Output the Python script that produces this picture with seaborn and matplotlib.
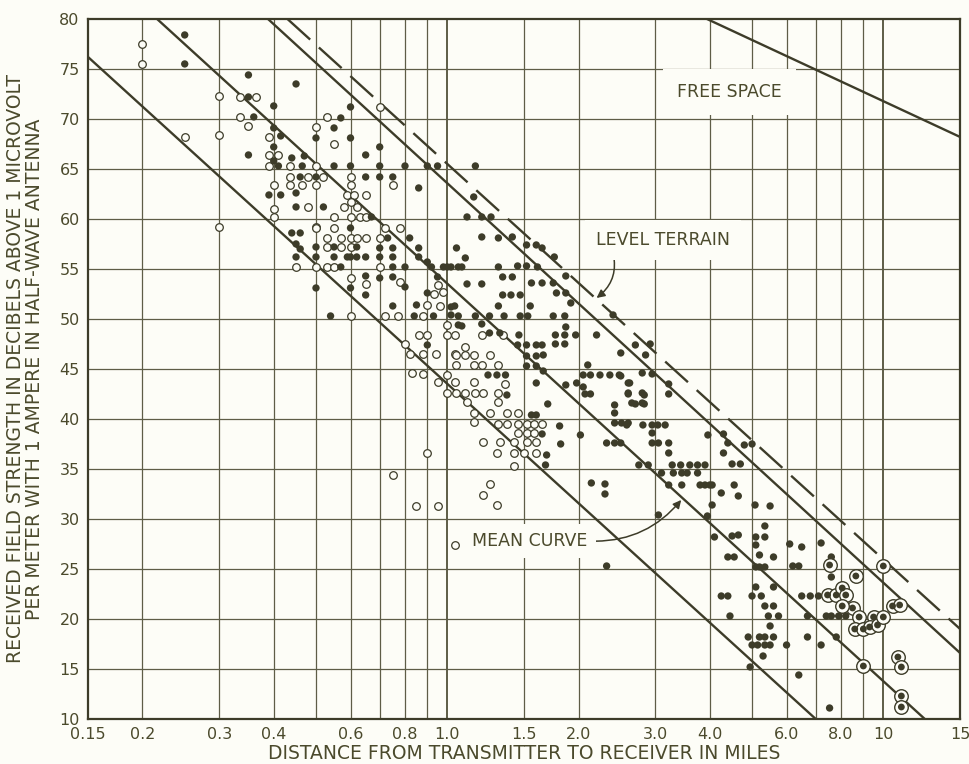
import numpy as np
import pandas as pd
import seaborn as sns
import matplotlib.pyplot as plt
from matplotlib.ticker import FixedLocator, NullFormatter, NullLocator

# --- measured points (distance in miles, field strength in dB) ---
filled_d = [0.25, 0.25, 0.35, 0.45, 0.35, 0.4, 0.36, 0.4, 0.415, 0.5, 0.4, 0.35, 0.44, 0.47,
            0.41, 0.40, 0.465, 0.55, 0.6, 0.7, 0.8, 0.9, 0.95, 1.16,
            0.6, 0.57, 0.55, 0.6, 0.7, 0.65,
            0.46, 0.5, 0.65, 0.7, 0.75, 0.86, 0.45, 0.39, 0.415, 0.45, 0.52, 0.67, 0.6, 0.73, 0.82,
            0.44, 0.46, 0.45, 0.46, 0.45,
            0.5, 0.55, 0.62, 0.7, 0.75, 0.86, 1.05,
            0.5, 0.55, 0.59, 0.6, 0.62, 0.65, 0.7, 0.75, 0.86, 0.9,
            0.57, 0.75, 0.8, 0.92, 0.98, 1.02, 1.06,
            0.5, 0.65, 0.7, 0.75, 0.8, 0.95, 0.6, 0.65, 0.9, 0.75, 0.85, 1.04,
            0.54, 0.84, 0.93, 1.06, 1.06, 0.9,
            1.15, 1.11, 1.2, 1.26, 1.2, 1.31, 1.41, 1.52, 1.6, 1.65, 1.76, 1.1, 1.0, 1.08, 1.31,
            1.45, 1.52, 1.61, 1.87, 1.34, 1.41, 1.11, 1.2, 1.56, 1.65, 1.75, 1.34, 1.4, 1.47,
            1.78, 1.87, 1.02, 1.31, 1.55, 1.92,
            1.16, 1.25, 1.35, 1.47, 1.53, 1.75, 1.86, 2.4, 1.02,
            1.08, 1.2, 1.25, 1.32, 1.46, 1.87, 1.77, 1.86, 1.97, 2.2, 1.86, 1.77, 1.52, 1.6, 1.65,
            1.45, 1.52, 1.6, 1.66, 1.52, 1.6, 1.66, 2.1,
            1.24, 1.3, 1.36, 2.05, 2.13, 2.24, 2.36, 2.48,
            1.6, 1.87, 1.98, 2.05, 2.6, 1.37, 2.07, 2.13, 2.6, 2.8, 1.7, 2.65, 2.8,
            1.6, 1.56, 1.81, 1.65, 1.82, 1.69, 1.68,
            2.42, 2.42, 2.42, 2.51, 2.6, 2.32, 2.42, 2.5, 2.02,
            2.14, 2.3, 2.3, 2.32,
            2.7, 2.92, 2.85, 2.5, 2.8, 2.95, 3.22, 3.22, 2.5, 2.62, 2.6, 2.83, 2.7, 2.83,
            2.58, 2.81, 2.95, 3.04, 3.16,
            2.95, 2.95, 3.05, 3.22, 3.22, 3.96, 4.3, 4.4, 4.3, 4.8, 5.0, 4.5, 4.7,
            2.75, 2.89, 3.28, 3.43, 3.6, 3.75, 3.9,
            3.1, 3.3, 3.45, 3.55, 3.75,
            3.22, 3.45, 3.8, 3.9, 4.0, 4.05, 4.55,
            4.25, 4.65,
            3.05, 4.05, 3.95, 5.08, 5.5, 5.35, 4.1, 4.5, 4.65, 5.1, 5.35, 5.1, 6.1, 6.5, 7.2,
            4.4, 4.55, 5.2, 5.6, 6.2, 6.4, 5.1, 5.2, 5.35, 7.6, 7.6,
            4.25, 4.4, 5.0, 5.25, 5.1, 5.6, 6.5, 6.8, 7.1, 5.35, 5.6,
            4.45, 5.45, 5.75, 6.7, 7.4, 7.6, 7.9, 8.2, 7.53, 6.4,
            4.9, 5.2, 5.35, 5.6, 5.0, 5.15, 5.35, 5.5, 6.0, 5.3, 4.95, 6.7, 7.2, 7.8, 5.5]
filled_db = [78.4, 75.5, 74.4, 73.5, 72.2, 71.3, 70.2, 69.1, 68.3, 68.1, 67.2, 66.4, 66.1, 66.3,
             65.3, 65.8, 65.3, 65.3, 65.3, 65.3, 65.3, 65.3, 65.3, 65.3,
             71.2, 70.1, 69.1, 68.1, 67.2, 66.4,
             64.2, 64.2, 64.2, 64.2, 64.2, 63.1, 62.6, 62.4, 62.4, 61.2, 61.2, 60.2, 59.1, 58.1, 58.1,
             58.6, 58.6, 57.5, 57.0, 56.2,
             57.2, 57.2, 57.2, 57.1, 57.1, 57.1, 57.1,
             56.2, 56.2, 56.2, 56.2, 56.2, 56.2, 56.2, 56.2, 56.2, 55.7,
             55.2, 55.2, 55.2, 55.2, 55.2, 55.2, 55.2,
             53.1, 54.3, 54.1, 54.2, 53.2, 54.2, 53.1, 52.4, 52.6, 51.3, 51.4, 51.3,
             50.3, 50.3, 50.3, 50.3, 49.4, 47.4,
             62.2, 60.2, 60.2, 60.2, 58.2, 58.1, 58.2, 57.4, 57.4, 57.1, 56.2, 56.1, 55.2, 55.2, 55.2,
             55.3, 55.3, 55.2, 54.3, 54.2, 54.2, 53.5, 53.5, 53.6, 53.6, 53.6, 52.4, 52.4, 52.4,
             52.6, 52.6, 51.2, 51.3, 51.3, 51.6,
             50.3, 50.3, 50.3, 50.3, 50.3, 50.3, 50.3, 50.4, 50.4,
             49.3, 49.5, 48.6, 48.6, 48.4, 49.2, 48.4, 48.4, 48.4, 48.4, 47.5, 47.5, 47.4, 47.4, 47.4,
             47.4, 46.3, 46.3, 46.4, 45.3, 45.3, 44.8, 45.4,
             44.4, 44.4, 44.4, 44.4, 44.4, 44.4, 44.4, 44.4,
             43.6, 43.4, 43.6, 43.2, 43.6, 42.4, 42.5, 42.5, 42.6, 42.6, 41.5, 41.6, 41.6,
             40.4, 40.4, 39.3, 38.5, 37.5, 36.4, 35.4,
             41.4, 40.6, 39.6, 39.6, 39.6, 37.6, 37.6, 37.6, 38.4,
             33.6, 33.5, 32.5, 25.3,
             47.4, 47.5, 46.4, 46.6, 44.6, 44.5, 43.5, 42.5, 44.3, 43.6, 42.5, 42.4, 41.5, 41.5,
             39.4, 39.4, 39.4, 39.4, 39.4,
             38.6, 37.6, 37.6, 37.6, 36.6, 38.4, 38.5, 37.6, 36.6, 37.4, 37.5, 35.5, 35.5,
             35.4, 35.4, 35.4, 35.4, 35.4, 35.4, 35.4,
             34.6, 34.6, 34.6, 34.6, 34.6,
             33.4, 33.4, 33.4, 33.4, 33.4, 33.4, 33.4,
             32.6, 32.3,
             30.4, 31.4, 30.3, 31.4, 31.3, 29.3, 28.2, 28.3, 28.4, 28.2, 28.2, 27.4, 27.5, 27.2, 27.6,
             26.2, 26.2, 26.4, 26.2, 25.3, 25.3, 25.2, 25.2, 25.2, 26.2, 24.2,
             22.3, 22.3, 22.3, 22.3, 23.2, 23.2, 22.3, 22.3, 22.3, 21.3, 21.3,
             20.3, 20.3, 20.3, 20.3, 20.3, 20.3, 20.3, 20.3, 11.1, 14.4,
             18.2, 18.2, 18.2, 18.2, 17.4, 17.4, 17.4, 17.4, 17.4, 16.3, 15.2, 18.2, 17.4, 18.2, 19.3]

open_d = [0.2, 0.2, 0.3, 0.335, 0.365, 0.335, 0.35, 0.5, 0.25, 0.3, 0.39, 0.39, 0.41,
          0.39, 0.435, 0.5,
          0.435, 0.48, 0.52, 0.6,
          0.4, 0.435, 0.465, 0.5, 0.6, 0.75,
          0.53, 0.7, 0.55,
          0.48, 0.4, 0.4, 0.3, 0.5,
          0.59, 0.61, 0.65, 0.58, 0.6, 0.62,
          0.55, 0.6, 0.63, 0.65,
          0.5, 0.55, 0.72, 0.78,
          0.53, 0.57, 0.6, 0.62, 0.65, 0.7,
          0.53, 0.57, 0.6,
          0.45, 0.5, 0.53, 0.55, 0.7,
          0.6, 0.78, 0.65, 0.95, 0.98, 0.93, 0.9, 0.96,
          0.6, 0.72, 0.77, 0.88,
          0.86, 0.9, 1.0, 1.04, 1.0, 0.8,
          0.82, 0.88, 0.94, 1.04,
          0.83, 0.88, 0.95, 1.0, 1.04, 1.0,
          0.75, 0.9, 1.21, 1.25, 0.85, 0.95, 1.3, 1.04,
          1.2, 1.34, 1.1,
          1.05, 1.1, 1.15, 1.25,
          1.05, 1.15, 1.2, 1.31,
          1.15, 1.36,
          1.05, 1.1, 1.16, 1.21, 1.31,
          1.31, 1.11,
          1.15, 1.25, 1.37, 1.45,
          1.15,
          1.31, 1.37, 1.45, 1.52, 1.58, 1.65,
          1.45, 1.52, 1.58,
          1.21, 1.32, 1.42, 1.52, 1.6,
          1.3, 1.42, 1.5, 1.6,
          1.42]
open_db = [77.5, 75.5, 72.3, 72.2, 72.2, 70.2, 69.3, 69.2, 68.2, 68.4, 68.2, 66.4, 66.4,
           65.3, 65.3, 65.3,
           64.2, 64.2, 64.2, 64.2,
           63.4, 63.4, 63.4, 63.4, 63.4, 63.4,
           70.2, 71.2, 67.5,
           61.2, 61.0, 60.2, 59.2, 59.2,
           62.4, 62.4, 62.4, 61.2, 61.7, 61.2,
           60.2, 60.2, 60.2, 60.2,
           59.1, 59.1, 59.1, 59.1,
           58.1, 58.1, 58.1, 58.1, 58.1, 58.1,
           57.2, 57.2, 57.2,
           55.2, 55.2, 55.2, 55.2, 55.2,
           54.1, 53.7, 53.5, 53.4, 52.7, 52.5, 51.4, 51.3,
           50.3, 50.3, 50.3, 50.3,
           48.4, 48.4, 48.4, 48.4, 49.4, 47.5,
           46.5, 46.5, 46.5, 46.5,
           44.6, 44.5, 43.7, 44.4, 43.7, 42.6,
           34.4, 36.6, 32.4, 33.5, 31.3, 31.3, 31.4, 27.4,
           48.4, 48.4, 47.2,
           46.4, 46.4, 46.4, 46.4,
           45.4, 45.4, 45.4, 45.4,
           43.7, 43.5,
           42.6, 42.6, 42.6, 42.6, 42.6,
           41.7, 41.7,
           40.6, 40.6, 40.6, 40.6,
           39.7,
           39.5, 39.5, 39.5, 39.5, 39.5, 39.5,
           38.6, 38.6, 38.6,
           37.7, 37.7, 37.7, 37.7, 37.7,
           36.6, 36.6, 36.6, 36.6,
           35.3]

ringed_d = [7.53, 8.65, 7.45, 7.8, 8.05, 8.2, 8.5, 8.8, 9.5, 8.6, 9.0, 9.3, 9.7,
            10.0, 8.05, 10.0, 10.5, 10.9, 9.0, 10.8, 11.0, 11.0, 11.0]
ringed_db = [25.4, 24.3, 22.4, 22.4, 23.1, 22.4, 21.1, 20.2, 20.2, 19.0, 19.0, 19.2, 19.4,
             25.3, 21.3, 20.2, 21.3, 21.4, 15.3, 16.2, 15.2, 12.3, 11.2]

# straight reference lines (end points)
lower_d, lower_db = [0.15, 7.0], [76.2, 10.0]
mean_d, mean_db = [0.216, 12.45], [80.0, 10.0]
upper_d, upper_db = [0.388, 15.0], [80.0, 16.6]
level_d, level_db = [0.43, 15.0], [80.0, 19.0]
free_d, free_db = [3.94, 15.0], [80.0, 68.2]

x_ticks = [0.15, 0.2, 0.3, 0.4, 0.6, 0.8, 1.0, 1.5, 2.0, 3.0, 4.0, 6.0, 8.0, 10, 15]
x_labels = ["0.15", "0.2", "0.3", "0.4", "0.6", "0.8", "1.0", "1.5", "2.0", "3.0", "4.0",
            "6.0", "8.0", "10", "15"]
x_grid = [0.2, 0.3, 0.4, 0.5, 0.6, 0.7, 0.8, 0.9, 1.5, 2.0, 3, 4, 5, 6, 7, 8, 9]
x_grid_heavy = [1.0, 10.0]
y_ticks = list(range(10, 85, 5))

bg = "#fdfdf7"
ink = "#3d3c29"
txt = "#4b4a2c"
grid_c = "#5e5d47"

sns.set_style("white")
plt.rcParams['font.family'] = ['DejaVu Sans']

fig = plt.figure(figsize=(9.69, 7.64), dpi=100, facecolor=bg)
ax = fig.add_axes([0.0908, 0.0589, 0.9, 0.9163])
ax.set_facecolor(bg)
ax.set_xscale("log")
ax.set_xlim(0.15, 15)
ax.set_ylim(10, 80)

for x in x_grid:
    ax.axvline(x, color=grid_c, lw=0.9, zorder=1)
for x in x_grid_heavy:
    ax.axvline(x, color=grid_c, lw=1.4, zorder=1)
for y in y_ticks[1:-1]:
    ax.axhline(y, color=grid_c, lw=0.9, zorder=1)

lines = pd.DataFrame({
    "d": lower_d + mean_d + upper_d + free_d,
    "db": lower_db + mean_db + upper_db + free_db,
    "name": ["lower"] * 2 + ["mean"] * 2 + ["upper"] * 2 + ["free"] * 2,
})
sns.lineplot(data=lines, x="d", y="db", units="name", estimator=None, sort=False,
             color=ink, lw=1.7, ax=ax, zorder=3)
ax.plot(level_d, level_db, color=ink, lw=1.7, dashes=(13, 5), zorder=3)

pts_f = pd.DataFrame({"d": filled_d, "db": filled_db})
pts_o = pd.DataFrame({"d": open_d, "db": open_db})
pts_r = pd.DataFrame({"d": ringed_d, "db": ringed_db})
sns.scatterplot(data=pts_o, x="d", y="db", s=30, facecolor=bg, edgecolor=ink,
                linewidth=0.9, ax=ax, zorder=4)
sns.scatterplot(data=pts_f, x="d", y="db", s=28, color=ink, edgecolor="none", ax=ax, zorder=4)
sns.scatterplot(data=pts_r, x="d", y="db", s=95, facecolor=bg, edgecolor=ink,
                linewidth=1.0, ax=ax, zorder=4)
sns.scatterplot(data=pts_r, x="d", y="db", s=24, color=ink, edgecolor="none", ax=ax, zorder=5)

box = dict(fc=bg, ec="none", pad=6)
ax.text(3.37, 72.7, "FREE SPACE", fontsize=12.5, color=txt, va="center", ha="left",
        bbox=dict(fc=bg, ec="none", pad=10), zorder=2)
ax.annotate("LEVEL TERRAIN", xy=(2.2, 52.1), xytext=(2.19, 57.9), fontsize=12.5, color=txt,
            va="center", ha="left", bbox=dict(fc=bg, ec="none", pad=8), zorder=2,
            arrowprops=dict(arrowstyle="-|>", color=ink, lw=1.1, relpos=(0.12, 0.0),
                            connectionstyle="arc3,rad=-0.35", shrinkA=0, shrinkB=0,
                            mutation_scale=12))
ax.annotate("MEAN CURVE", xy=(3.44, 31.9), xytext=(1.14, 27.8), fontsize=12.5, color=txt,
            va="center", ha="left", bbox=box, zorder=2,
            arrowprops=dict(arrowstyle="-|>", color=ink, lw=1.1, relpos=(1.0, 0.5),
                            connectionstyle="arc3,rad=0.25", shrinkA=0, shrinkB=0,
                            mutation_scale=12))

ax.xaxis.set_major_locator(FixedLocator(x_ticks))
ax.xaxis.set_minor_locator(NullLocator())
ax.xaxis.set_minor_formatter(NullFormatter())
ax.set_xticklabels(x_labels)
ax.set_yticks(y_ticks)
ax.tick_params(length=0, labelsize=11.5, labelcolor=txt, pad=6)
ax.set_xlabel("DISTANCE FROM TRANSMITTER TO RECEIVER IN MILES", fontsize=13.5, color=txt,
              labelpad=1)
ax.set_ylabel("RECEIVED FIELD STRENGTH IN DECIBELS ABOVE 1 MICROVOLT\n"
              "PER METER WITH 1 AMPERE IN HALF-WAVE ANTENNA", fontsize=13.5, color=txt,
              labelpad=11, linespacing=1.0)
for s in ax.spines.values():
    s.set_color(ink)
    s.set_linewidth(1.6)

fig.savefig("out.png", dpi=100, facecolor=bg)
